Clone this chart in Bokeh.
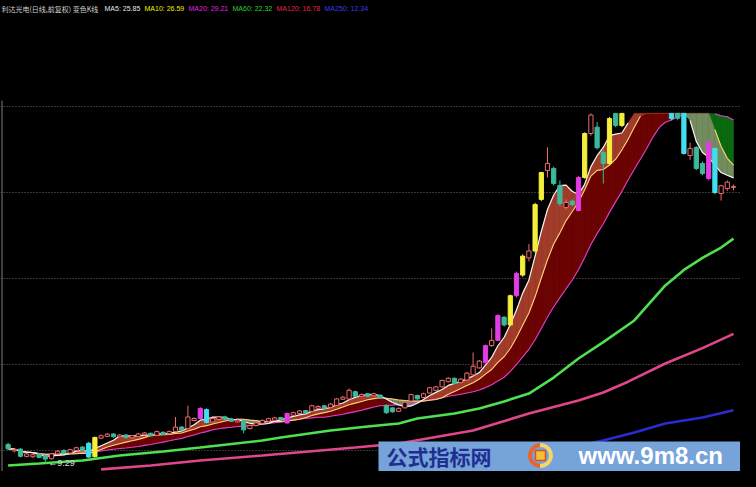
import math
import numpy as np
import pandas as pd
from bokeh.plotting import figure
from bokeh.models import ColumnDataSource, Grid, FixedTicker, Label, BoxAnnotation
from bokeh.embed import file_html
from bokeh.resources import INLINE

# ---------------- data ----------------
TITLE = "利达光电(日线,前复权) 变色K线"

OPEN = [10.35, 9.98, 10.08, 9.66, 9.64, 9.80, 9.70, 9.52, 9.80, 10.00,
        9.85, 10.00, 10.20, 10.42, 9.64, 10.72, 10.82, 10.96, 10.80, 10.90,
        10.74, 10.82, 10.92, 11.00, 10.88, 11.06, 10.98, 11.10, 11.36, 11.28,
        11.74, 11.86, 12.38, 11.66, 11.80, 11.95, 11.84, 11.66, 11.72, 11.28,
        11.45, 11.58, 11.70, 11.76, 11.92, 11.60, 12.05, 12.15, 12.32, 12.28,
        12.46, 12.60, 12.50, 12.62, 12.98, 13.00, 13.42, 13.15, 13.30, 13.18,
        13.22, 12.62, 12.48, 12.28, 12.48, 12.88, 13.20, 13.08, 13.34, 13.50,
        13.70, 14.00, 14.20, 13.95, 14.10, 14.40, 14.80, 15.10, 16.10, 16.40,
        17.75, 17.30, 19.00, 20.20, 21.20, 21.60, 24.60, 26.28, 26.40, 25.41,
        24.13, 24.50, 23.95, 25.87, 28.43, 28.80, 27.33, 26.69, 29.70, 28.90,
        29.80, 30.50, 31.40, 32.40, 33.50, 34.80, 35.00, 32.00, 29.80, 30.20,
        27.15, 27.62, 26.69, 25.81, 27.56, 24.94, 25.23, 25.30]
HIGH = [10.45, 10.12, 10.14, 9.86, 9.82, 9.85, 9.74, 9.85, 10.02, 10.08,
        10.10, 10.22, 10.25, 10.50, 10.80, 10.92, 11.02, 11.00, 10.96, 10.95,
        10.90, 11.02, 11.08, 11.04, 11.16, 11.10, 11.16, 11.95, 11.42, 12.60,
        11.92, 12.52, 12.45, 11.90, 12.00, 12.02, 11.90, 11.82, 11.76, 11.50,
        11.66, 11.80, 11.90, 11.96, 11.96, 12.20, 12.26, 12.36, 12.36, 12.66,
        12.62, 12.64, 12.76, 13.06, 13.16, 13.60, 13.48, 13.32, 13.34, 13.36,
        13.26, 12.70, 12.52, 12.50, 12.86, 13.30, 13.24, 13.36, 13.70, 13.76,
        14.12, 14.26, 14.24, 14.20, 14.56, 15.70, 15.26, 16.16, 17.10, 17.92,
        17.82, 19.06, 20.40, 21.40, 22.00, 24.40, 26.20, 27.62, 26.50, 25.70,
        24.60, 24.60, 25.95, 28.50, 30.20, 29.10, 27.50, 29.40, 30.10, 30.00,
        30.80, 31.60, 32.60, 33.70, 35.00, 35.60, 35.10, 32.20, 30.00, 30.40,
        27.90, 27.70, 26.80, 28.00, 27.60, 25.45, 25.70, 25.45]
LOW = [10.02, 9.90, 9.60, 9.60, 9.58, 9.55, 9.29, 9.48, 9.75, 9.80,
       9.82, 9.96, 9.95, 9.58, 9.60, 10.66, 10.78, 10.74, 10.76, 10.70,
       10.70, 10.78, 10.88, 10.80, 10.84, 10.90, 10.94, 11.05, 11.14, 11.24,
       11.70, 11.82, 11.58, 11.60, 11.76, 11.76, 11.66, 11.62, 11.00, 11.22,
       11.40, 11.55, 11.66, 11.72, 11.74, 11.56, 12.00, 12.10, 12.15, 12.24,
       12.42, 12.40, 12.46, 12.58, 12.94, 12.96, 13.10, 13.10, 13.10, 13.14,
       13.00, 12.12, 12.20, 12.24, 12.44, 12.84, 12.96, 13.04, 13.30, 13.46,
       13.66, 13.96, 13.86, 13.90, 14.06, 14.36, 14.76, 15.06, 16.02, 16.36,
       17.20, 17.25, 18.90, 20.10, 21.00, 21.50, 24.50, 25.87, 25.40, 24.20,
       24.00, 24.20, 23.90, 25.80, 28.30, 27.50, 25.52, 26.60, 28.80, 28.80,
       29.60, 30.30, 31.20, 32.20, 33.30, 34.50, 32.30, 29.20, 29.20, 27.20,
       26.90, 26.30, 26.00, 25.70, 24.90, 24.53, 25.10, 25.12]
CLOSE = [10.10, 10.06, 9.66, 9.80, 9.75, 9.60, 9.50, 9.80, 9.96, 9.85,
         10.05, 10.16, 10.00, 9.62, 10.76, 10.86, 10.95, 10.80, 10.90, 10.75,
         10.86, 10.96, 11.02, 10.85, 11.10, 10.95, 11.10, 11.36, 11.20, 11.95,
         11.86, 12.44, 11.63, 11.85, 11.95, 11.80, 11.70, 11.76, 11.20, 11.45,
         11.60, 11.75, 11.85, 11.90, 11.80, 12.15, 12.20, 12.30, 12.20, 12.60,
         12.56, 12.45, 12.70, 13.00, 13.10, 13.50, 13.15, 13.25, 13.15, 13.30,
         13.05, 12.20, 12.25, 12.45, 12.80, 13.25, 13.00, 13.30, 13.65, 13.70,
         14.07, 14.20, 13.90, 14.15, 14.50, 14.90, 15.20, 16.10, 16.40, 17.85,
         17.30, 19.00, 20.30, 21.30, 21.60, 24.30, 26.16, 26.69, 25.52, 24.36,
         24.42, 24.30, 25.87, 28.43, 29.50, 27.60, 26.69, 29.30, 28.90, 29.80,
         30.50, 31.40, 32.40, 33.50, 34.80, 35.20, 32.50, 29.30, 29.32, 27.27,
         27.56, 26.40, 26.10, 27.91, 25.00, 25.39, 25.60, 25.35]
# candle colour class: u = normal up (hollow), d = normal down, Y/M/C = highlighted
KIND = list("duduudduud" "uudCYuudud" "uuududuudu" "uMCuuddudu" "uuuudMuudu"
            "uduuuududu" "ddduuuduuu" "uuduuuuMuM" "dYMYuYYudd" "udMYuddYdY"
            "uYuuuuCCdC" "uddMCuuu")

MA60_BARS = [0, 5, 12, 18, 25, 31, 41, 44, 52, 58, 63, 66, 72, 76, 80, 84, 88,
             92, 96, 101, 106, 109, 112, 115, 117]
MA60_VALS = [9.13, 9.24, 9.42, 9.71, 9.94, 10.17, 10.58, 10.76, 11.16, 11.40,
             11.57, 11.86, 12.15, 12.44, 12.85, 13.31, 14.24, 15.35, 16.30,
             17.56, 19.60, 20.50, 21.20, 21.80, 22.32]
MA120_BARS = [15, 23, 31, 41, 56, 63, 75, 84, 92, 96, 100, 106, 112, 117]
MA120_VALS = [8.90, 9.13, 9.42, 9.71, 10.17, 10.41, 11.16, 12.15, 12.91, 13.37,
              14.00, 15.06, 15.95, 16.78]
MA250_BARS = [62, 70, 78, 86, 92, 96, 101, 106, 112, 117]
MA250_VALS = [8.55, 9.00, 9.50, 10.00, 10.29, 10.58, 11.05, 11.57, 11.92, 12.34]

GRID_LEVELS = [10, 15, 20, 25, 30]
CLIP_PRICE = 29.6          # top edge of the candle area

# ---------------- layout helpers (reference pixel -> data) ----------------
W, H = 740, 471


def rx(px):
    return (px - 7.6) / 6.2


def ry(py):
    return 10 + (450 - py) / 17.2


N = len(CLOSE)
idx = np.arange(N)
o = np.array(OPEN); h = np.array(HIGH); l = np.array(LOW); c = np.array(CLOSE)

ma = {n: pd.Series(CLOSE).rolling(n, min_periods=1).mean().to_numpy() for n in (5, 10, 20)}

p = figure(width=W, height=H, x_range=(rx(0), rx(W)), y_range=(ry(H), ry(0)),
           x_axis_location=None, y_axis_location=None, toolbar_location=None,
           output_backend="svg", title=None, min_border=0,
           background_fill_color="black", border_fill_color="black",
           outline_line_color=None)
p.grid.visible = False

try:
    from bokeh.models import GlobalInlineStyleSheet
    p.stylesheets = [GlobalInlineStyleSheet(css="html, body { background-color: #000000; }")]
except Exception:
    pass

p.add_layout(Grid(dimension=1, ticker=FixedTicker(ticks=GRID_LEVELS),
                  grid_line_color="#6a6a6a", grid_line_dash="1 2", grid_line_width=1))

# ---------------- MA bands ----------------
UP1, DN1 = "#a23c2a", "#738c5e"
UP2, DN2 = "#6c0303", "#0b6a10"
cm5, cm10, cm20 = (np.minimum(ma[n], CLIP_PRICE) for n in (5, 10, 20))
bx, by, bc = [], [], []
for i in range(N - 1):
    xq = [i, i + 1, i + 1, i]
    up2 = ma[10][i] + ma[10][i + 1] >= ma[20][i] + ma[20][i + 1]
    bx.append(xq); by.append([cm10[i], cm10[i + 1], cm20[i + 1], cm20[i]]); bc.append(UP2 if up2 else DN2)
    up1 = ma[5][i] + ma[5][i + 1] >= ma[10][i] + ma[10][i + 1]
    bx.append(xq); by.append([cm5[i], cm5[i + 1], cm10[i + 1], cm10[i]]); bc.append(UP1 if up1 else DN1)
p.patches(xs=bx, ys=by, fill_color=bc, line_color=bc, line_width=0.6)

# ---------------- MA lines ----------------
def cut(a):
    return np.where(a <= CLIP_PRICE, a, np.nan)

p.line(idx, cut(ma[20]), line_color="#e040d0", line_width=1.1)
p.line(idx, cut(ma[10]), line_color="#ffd27a", line_width=1.1)
p.line(idx, cut(ma[5]), line_color="#f4f4f4", line_width=1.2)
p.line(MA60_BARS, MA60_VALS, line_color="#4fe050", line_width=2.6)
p.line(MA120_BARS, MA120_VALS, line_color="#e0468a", line_width=2.6)
p.line(MA250_BARS, MA250_VALS, line_color="#2b2bd2", line_width=2.6)

# ---------------- candles ----------------
COL = {"u": "#f06a6a", "d": "#3cb99b", "Y": "#f4ee3c", "M": "#e23ce2", "C": "#40dff0"}
kcol = [COL[k] for k in KIND]
kfill = ["black" if k == "u" else COL[k] for k in KIND]
wick_vis = l < CLIP_PRICE
wick = ColumnDataSource(dict(x=idx[wick_vis], y0=l[wick_vis],
                             y1=np.minimum(h, CLIP_PRICE)[wick_vis],
                             col=np.array(kcol)[wick_vis]))
p.segment(x0="x", y0="y0", x1="x", y1="y1", line_color="col", line_width=1, source=wick)
btop = np.minimum(np.maximum(o, c), CLIP_PRICE)
bbot = np.minimum(o, c)
body_vis = bbot < CLIP_PRICE
body = ColumnDataSource(dict(x=idx[body_vis], top=btop[body_vis], bottom=bbot[body_vis],
                             col=np.array(kcol)[body_vis], fill=np.array(kfill)[body_vis]))
p.vbar(x="x", width=0.68, top="top", bottom="bottom", fill_color="fill",
       line_color="col", line_width=1, source=body)

# lowest price label
li = int(np.argmin(l))
p.add_layout(Label(x=li, y=l[li], x_offset=3, text="\u2190" + f"{l[li]:.2f}",
                   text_color="#d8d8d8", text_font_size="9px", text_baseline="middle",
                   text_font="Liberation Sans"))

# left border
p.segment(x0=[rx(1.5)], y0=[ry(H)], x1=[rx(1.5)], y1=[ry(100)], line_color="#7a7a7a", line_width=1)

# ---------------- header ----------------
p.add_layout(Label(x=rx(1), y=ry(8), text=TITLE, text_color="#d0d0d0",
                   text_font="Noto Sans CJK SC", text_font_size="7px", text_baseline="middle"))
heads = [("MA5", ma[5][-1], "#e8e8e8", 104), ("MA10", ma[10][-1], "#f0f000", 144),
         ("MA20", ma[20][-1], "#e020e0", 188), ("MA60", MA60_VALS[-1], "#30d030", 232),
         ("MA120", MA120_VALS[-1], "#e02840", 276), ("MA250", MA250_VALS[-1], "#3c3ce6", 324)]
for name, val, col, px in heads:
    p.add_layout(Label(x=rx(px), y=ry(8), text=f"{name}: {val:.2f}", text_color=col,
                       text_font="Liberation Sans", text_font_size="7px", text_baseline="middle"))

# ---------------- watermark ----------------
p.add_layout(BoxAnnotation(left=rx(378), right=rx(W + 4), top=ry(441), bottom=ry(H + 4),
                           fill_color="#77a3db", fill_alpha=1.0, line_alpha=0))
p.add_layout(Label(x=rx(386), y=ry(455), text="公式指标网", text_color="#1f2f8f",
                   text_font="Noto Sans CJK SC", text_font_style="bold",
                   text_font_size="21px", text_baseline="middle"))
p.add_layout(Label(x=rx(578), y=ry(455), text="www.9m8.cn", text_color="#ffffff",
                   text_font="Liberation Sans", text_font_style="bold",
                   text_font_size="24px", text_baseline="middle"))
lx, ly = [rx(540)], [ry(455)]
p.wedge(x=lx, y=ly, radius=12, radius_units="screen", start_angle=math.pi / 2,
        end_angle=3 * math.pi / 2, color="#e8642c", level="overlay")
p.wedge(x=lx, y=ly, radius=12, radius_units="screen", start_angle=-math.pi / 2,
        end_angle=math.pi / 2, color="#f2d76a", level="overlay")
p.scatter(x=lx, y=ly, size=17, marker="circle", fill_color="#77a3db", line_color=None, level="overlay")
p.scatter(x=lx, y=ly, size=10, marker="square", fill_color="#efc234", line_color="#d8502a",
          line_width=1.5, level="overlay")

open("out.html", "w", encoding="utf-8").write(file_html(p, INLINE))
